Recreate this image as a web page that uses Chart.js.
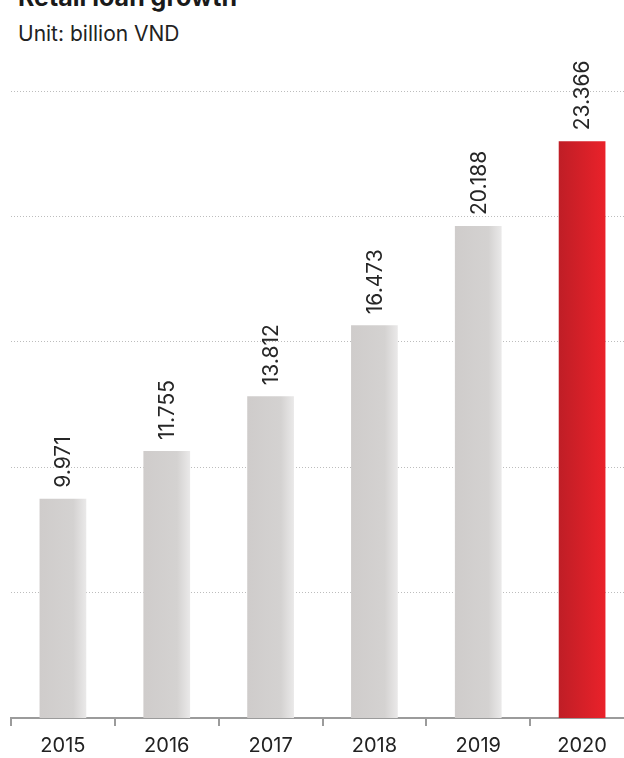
<!DOCTYPE html>
<html>
<head>
<meta charset="utf-8">
<script src="https://cdn.jsdelivr.net/npm/chart.js@4/dist/chart.umd.min.js"></script>
<style>
  html, body { margin: 0; padding: 0; background: #fff; overflow: hidden; }
  body { width: 624px; height: 758px; position: relative; font-family: Inter, Roboto, sans-serif; color: #222; }
  #title { position: absolute; left: 18px; top: -15px; font-size: 25px; font-weight: 700; line-height: 25px; color: #1a1a1a; white-space: nowrap; }
  #unit { position: absolute; left: 18px; top: 22px; font-size: 21px; line-height: 24px; color: #222; white-space: nowrap; }
  canvas { position: absolute; left: 0; top: 0; }
</style>
</head>
<body>
<div id="title">Retail loan growth</div>
<div id="unit">Unit: billion VND</div>
<canvas id="loanChart" width="640" height="766"></canvas>

<script>
const years = ["2015", "2016", "2017", "2018", "2019", "2020"];
const loans = [9971, 11755, 13812, 16473, 20188, 23366];
const loanLabels = ["9.971", "11.755", "13.812", "16.473", "20.188", "23.366"];

// vertical value labels sitting above each bar
const barLabels = {
  id: "barLabels",
  afterDatasetsDraw(chart) {
    const ctx = chart.ctx;
    const meta = chart.getDatasetMeta(0);
    ctx.save();
    ctx.font = "21px Inter";
    ctx.fillStyle = "#262626";
    ctx.textAlign = "left";
    ctx.textBaseline = "middle";
    meta.data.forEach((bar, i) => {
      ctx.save();
      ctx.translate(bar.x + 1, bar.y - 11);
      ctx.rotate(-Math.PI / 2);
      ctx.fillText(loanLabels[i], 0, 0);
      ctx.restore();
    });
    ctx.restore();
  },
};

function barFill(context) {
  const chart = context.chart;
  const xScale = chart.scales.x;
  if (!xScale || !chart.chartArea) return "#d2cfce";
  const cx = xScale.getPixelForValue(context.dataIndex);
  const half = (xScale.width / years.length) * 0.45 / 2;
  const g = chart.ctx.createLinearGradient(cx - half, 0, cx + half, 0);
  if (context.dataIndex === years.length - 1) {
    g.addColorStop(0, "#bf1e26");
    g.addColorStop(1, "#ea222a");
  } else {
    g.addColorStop(0, "#cfcccb");
    g.addColorStop(0.72, "#d4d2d1");
    g.addColorStop(1, "#eae9e9");
  }
  return g;
}

const canvas = document.getElementById("loanChart");

new Chart(canvas, {
  type: "bar",
  data: {
    labels: years,
    datasets: [
      {
        data: loans,
        backgroundColor: barFill,
        borderWidth: 0,
        barPercentage: 0.45,
        categoryPercentage: 1,
      },
    ],
  },
  options: {
    responsive: false,
    animation: false,
    layout: { padding: { left: 11, right: 6, top: 91, bottom: 0 } },
    plugins: {
      legend: { display: false },
      tooltip: { enabled: false },
    },
    scales: {
      x: {
        offset: true,
        grid: {
          offset: true,
          drawOnChartArea: false,
          drawTicks: true,
          tickLength: 8,
          color: "#9b9b9b",
          lineWidth: 2,
        },
        border: { display: true, color: "#9b9b9b", width: 2 },
        ticks: {
          color: "#222",
          font: { family: "Inter", size: 20 },
          padding: 8,
        },
      },
      y: {
        min: 1750,
        max: 25250,
        ticks: { display: false, stepSize: 4700 },
        grid: {
          drawTicks: false,
          color: "#bdbdbd",
          lineWidth: 1,
        },
        border: { display: false, dash: [1, 2] },
      },
    },
  },
  plugins: [barLabels],
});
</script>
</body>
</html>
